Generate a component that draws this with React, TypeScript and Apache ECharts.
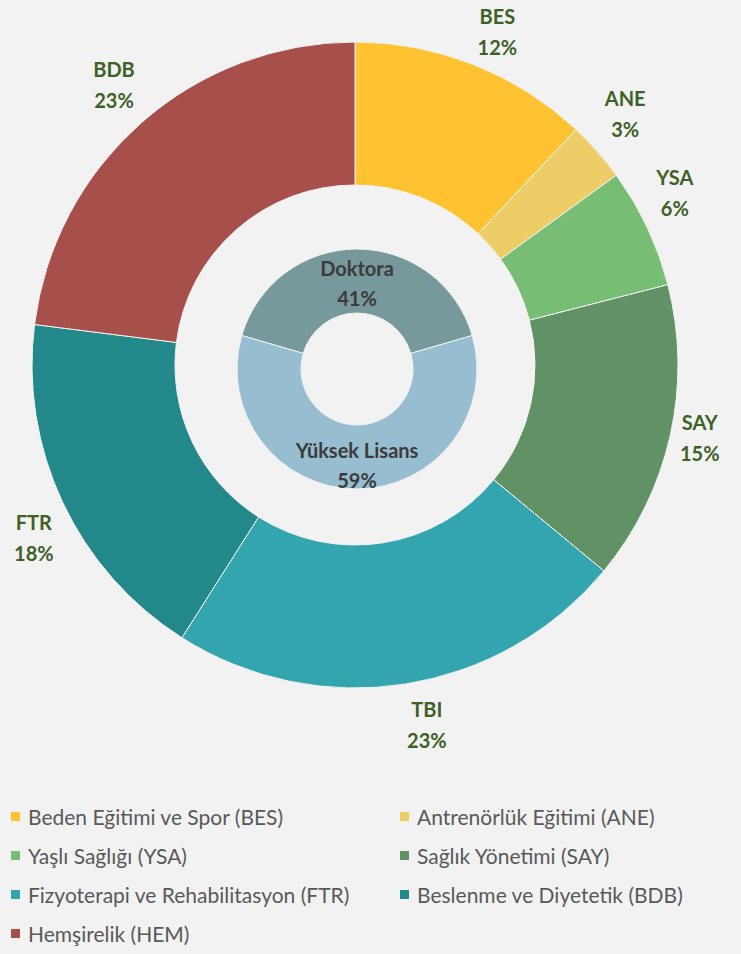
import React, { useEffect, useRef } from "react";
import * as echarts from "echarts";

const legendNames = [
  "Beden Eğitimi ve Spor (BES)",
  "Antrenörlük Eğitimi (ANE)",
  "Yaşlı Sağlığı (YSA)",
  "Sağlık Yönetimi (SAY)",
  "Fizyoterapi ve Rehabilitasyon (FTR)",
  "Beslenme ve Diyetetik (BDB)",
  "Hemşirelik (HEM)",
];
const sliceCodes = ["BES", "ANE", "YSA", "SAY", "TBI", "FTR", "BDB"];
const slicePercents = [12, 3, 6, 15, 23, 18, 23];
const sliceColors = ["#FFC332", "#EDCD66", "#77BE74", "#609266", "#33A5AE", "#22888A", "#A74F4B"];

const degreeNames = ["Doktora", "Yüksek Lisans"];
const degreePercents = [41, 59];
const degreeColors = ["#78999C", "#97BDD1"];

const FONT = "Lato, 'Open Sans', sans-serif";

export default function App() {
  const ref = useRef<HTMLDivElement>(null);

  useEffect(() => {
    if (!ref.current) return;
    const chart = echarts.init(ref.current, undefined, { renderer: "svg" });

    const CX = 355;
    const CY = 365;
    const OUTER_R = 323;
    const LABEL_R = 333;
    const total = slicePercents.reduce((a, b) => a + b, 0);
    const degreeTotal = degreePercents.reduce((a, b) => a + b, 0);
    const innerStart = 90 + ((degreePercents[0] / degreeTotal) * 360) / 2;

    const leftItems = legendNames.filter((_, i) => i % 2 === 0);
    const rightItems = legendNames.filter((_, i) => i % 2 === 1);

    const legendCommon = {
      orient: "vertical" as const,
      top: 806,
      padding: 0,
      itemWidth: 11,
      itemHeight: 11,
      itemGap: 18,
      icon: "rect",
      selectedMode: false,
      textStyle: {
        color: "#595959",
        fontSize: 21,
        lineHeight: 21,
        fontFamily: FONT,
        padding: [0, 0, 0, 2],
      },
    };

    chart.setOption({
      animation: false,
      backgroundColor: "#F2F2F2",
      legend: [
        { ...legendCommon, left: 9, data: leftItems },
        { ...legendCommon, left: 398, data: rightItems },
      ],
      series: [
        {
          type: "pie",
          name: "outer",
          center: [CX, CY],
          radius: [180, OUTER_R],
          startAngle: 90,
          clockwise: true,
          avoidLabelOverlap: false,
          itemStyle: { borderColor: "#F2F2F2", borderWidth: 1 },
          label: {
            show: true,
            position: "outside",
            formatter: (p: any) => `${sliceCodes[p.dataIndex]}\n${p.value}%`,
            color: "#3E6126",
            fontSize: 20,
            fontWeight: "bold",
            lineHeight: 31,
            fontFamily: FONT,
            align: "center",
          },
          labelLine: { show: false },
          labelLayout: (params: any) => {
            const i = params.dataIndex;
            let cum = 0;
            for (let j = 0; j < i; j++) cum += slicePercents[j];
            const mid = ((cum + slicePercents[i] / 2) / total) * Math.PI * 2;
            const s = Math.sin(mid);
            const c = -Math.cos(mid);
            const ax = CX + LABEL_R * s;
            const ay = CY + LABEL_R * c;
            const w = params.labelRect.width;
            const h = params.labelRect.height;
            const sx = Math.sign(s);
            const sy = Math.abs(c) < 0.3 ? 0 : Math.sign(c);
            let y = ay + sy * (h / 2);
            if (y < h / 2) y = h / 2;
            return {
              x: ax + sx * (w / 2),
              y,
              align: "center",
              verticalAlign: "middle",
            };
          },
          emphasis: { disabled: true },
          data: slicePercents.map((v, i) => ({
            name: legendNames[i],
            value: v,
            itemStyle: { color: sliceColors[i] },
          })),
        },
        {
          type: "pie",
          name: "inner",
          center: [357, 369],
          radius: [56, 120],
          startAngle: innerStart,
          clockwise: true,
          avoidLabelOverlap: false,
          itemStyle: { borderColor: "#F2F2F2", borderWidth: 1 },
          label: {
            show: true,
            position: "inside",
            formatter: (p: any) => `${p.name}\n${p.value}%`,
            color: "#3B3B3B",
            fontSize: 20,
            fontWeight: "bold",
            lineHeight: 30,
            fontFamily: FONT,
          },
          labelLayout: () => ({ dy: 5 }),
          labelLine: { show: false },
          emphasis: { disabled: true },
          data: degreePercents.map((v, i) => ({
            name: degreeNames[i],
            value: v,
            itemStyle: { color: degreeColors[i] },
          })),
        },
      ],
    });

    return () => chart.dispose();
  }, []);

  return (
    <div
      ref={ref}
      style={{ position: "absolute", left: 0, top: 0, width: 741, height: 954, background: "#F2F2F2" }}
    />
  );
}
